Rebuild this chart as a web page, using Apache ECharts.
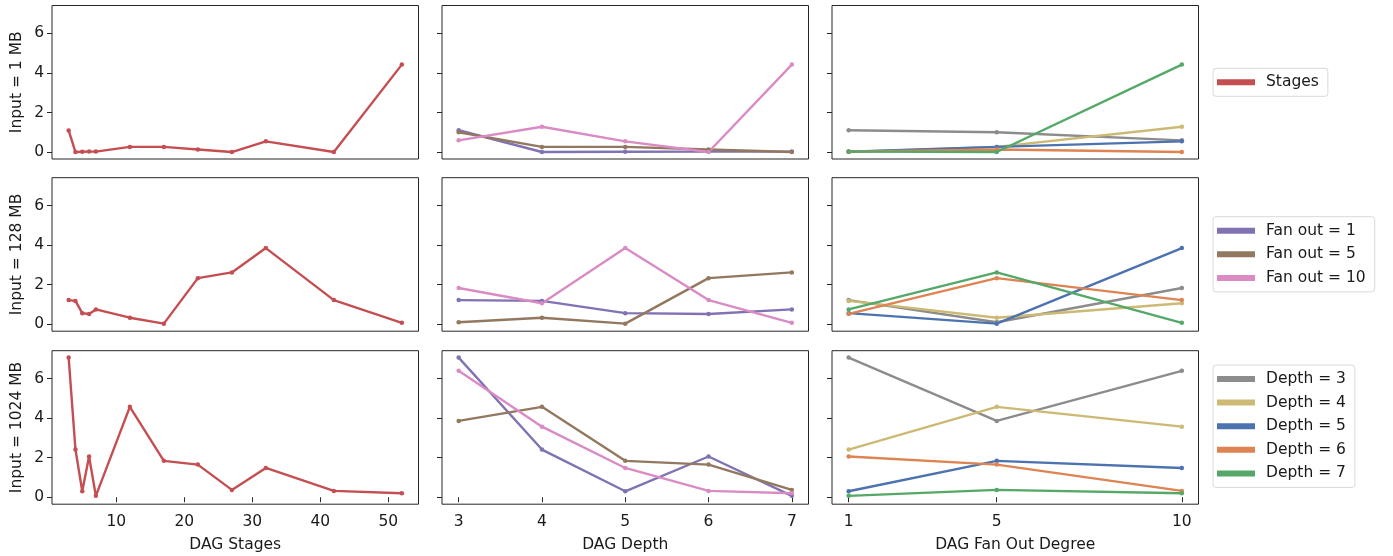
<!DOCTYPE html>
<html>
<head>
<meta charset="utf-8">
<script src="https://cdn.jsdelivr.net/npm/echarts@6/dist/echarts.min.js"></script>
<style>
  html, body { margin: 0; padding: 0; background: #fff; }
  #chart { width: 1393px; height: 556px; }
</style>
</head>
<body>
<div id="chart"></div>
<script>
// categories / ticks
var depths = [3, 4, 5, 6, 7];
var fanOuts = [1, 5, 10];
var stages = [3, 4, 5, 6, 7, 12, 17, 22, 27, 32, 42, 52];
var inputLabels = ['Input = 1 MB', 'Input = 128 MB', 'Input = 1024 MB'];
var yTicks = [0, 2, 4, 6];
var stageTicks = [10, 20, 30, 40, 50];

// time vs number of stages, one array per input size
var stageTime1 = [1.09, 0.0, 0.01, 0.02, 0.02, 0.26, 0.26, 0.13, 0.0, 0.54, 0.0, 4.42];
var stageTime128 = [1.22, 1.18, 0.56, 0.52, 0.75, 0.33, 0.03, 2.33, 2.62, 3.85, 1.22, 0.07];
var stageTime1024 = [7.06, 2.41, 0.30, 2.06, 0.07, 4.57, 1.84, 1.65, 0.37, 1.48, 0.32, 0.20];

// time vs depth (3..7), one array per fan out and input size
var t1_fo1 = [1.10, 0.0, 0.01, 0.02, 0.02];
var t1_fo5 = [1.00, 0.26, 0.26, 0.13, 0.0];
var t1_fo10 = [0.59, 1.28, 0.54, 0.0, 4.42];
var t128_fo1 = [1.22, 1.18, 0.56, 0.52, 0.75];
var t128_fo5 = [0.10, 0.33, 0.03, 2.33, 2.62];
var t128_fo10 = [1.83, 1.06, 3.85, 1.22, 0.07];
var t1024_fo1 = [7.06, 2.41, 0.30, 2.06, 0.07];
var t1024_fo5 = [3.86, 4.57, 1.84, 1.65, 0.37];
var t1024_fo10 = [6.39, 3.57, 1.48, 0.32, 0.20];

var stageRows = [stageTime1, stageTime128, stageTime1024];
var depthRows = [
  [t1_fo1, t1_fo5, t1_fo10],
  [t128_fo1, t128_fo5, t128_fo10],
  [t1024_fo1, t1024_fo5, t1024_fo10]
];

var stageColor = '#C44E52';
var fanOutColors = ['#8172B3', '#937860', '#DA8BC3'];
var depthColors = ['#8C8C8C', '#CCB974', '#4C72B0', '#DD8452', '#55A868'];

var font = 'DejaVu Sans';
var fs = 15.5;
var ink = '#1a1a1a';
var colLeft = [52, 442, 832];
var rowTop = [5.5, 177.7, 350.7];
var cellW = 366.5, cellH = 153.5;

var xSetup = [
  { min: 0.55, max: 54.45, ticks: stageTicks, name: 'DAG Stages' },
  { min: 2.8, max: 7.2, ticks: depths, name: 'DAG Depth' },
  { min: 0.55, max: 10.45, ticks: fanOuts, name: 'DAG Fan Out Degree' }
];

var grids = [], xAxes = [], yAxes = [], series = [];

for (var r = 0; r < 3; r++) {
  for (var c = 0; c < 3; c++) {
    var idx = r * 3 + c;
    var bottom = r === 2;
    grids.push({
      left: colLeft[c], top: rowTop[r], width: cellW, height: cellH,
      show: true, borderColor: '#262626', borderWidth: 1, backgroundColor: 'transparent'
    });
    xAxes.push({
      type: 'value', gridIndex: idx,
      min: xSetup[c].min, max: xSetup[c].max,
      name: bottom ? xSetup[c].name : '',
      nameLocation: 'middle', nameGap: 33,
      nameTextStyle: { fontFamily: font, fontSize: fs, color: ink },
      axisLine: { show: false },
      splitLine: { show: false },
      axisTick: { show: bottom, length: 5, lineStyle: { color: '#262626' }, customValues: xSetup[c].ticks },
      axisLabel: { show: bottom, margin: 10, fontFamily: font, fontSize: fs, color: ink, customValues: xSetup[c].ticks }
    });
    yAxes.push({
      type: 'value', gridIndex: idx,
      min: -0.353, max: 7.41,
      name: c === 0 ? inputLabels[r] : '',
      nameLocation: 'middle', nameGap: 27,
      nameTextStyle: { fontFamily: font, fontSize: fs, color: ink },
      axisLine: { show: false },
      splitLine: { show: false },
      axisTick: { show: true, length: 5, lineStyle: { color: '#262626' }, customValues: yTicks },
      axisLabel: { show: c === 0, margin: 8, fontFamily: font, fontSize: fs, color: ink, customValues: yTicks }
    });
  }
}

function lineSeries(name, color, idx, data) {
  return {
    type: 'line', name: name, xAxisIndex: idx, yAxisIndex: idx,
    data: data, color: color,
    symbol: 'circle', symbolSize: 4.5, showSymbol: true,
    lineStyle: { width: 2.4, color: color },
    itemStyle: { color: color },
    emphasis: { disabled: true }
  };
}

for (var r = 0; r < 3; r++) {
  series.push(lineSeries('Stages', stageColor, r * 3,
    stages.map(function (s, i) { return [s, stageRows[r][i]]; })));
  for (var f = 0; f < fanOuts.length; f++) {
    series.push(lineSeries('Fan out = ' + fanOuts[f], fanOutColors[f], r * 3 + 1,
      depths.map(function (d, i) { return [d, depthRows[r][f][i]]; })));
  }
  for (var d = 0; d < depths.length; d++) {
    series.push(lineSeries('Depth = ' + depths[d], depthColors[d], r * 3 + 2,
      fanOuts.map(function (fo, j) { return [fo, depthRows[r][j][d]]; })));
  }
}

function legendBox(names, top) {
  return {
    data: names, orient: 'vertical', left: 1213, top: top,
    icon: 'rect', itemWidth: 38, itemHeight: 6, itemGap: 7.6,
    padding: [6, 9, 6, 4],
    backgroundColor: '#fff', borderColor: '#d9d9d9', borderWidth: 1, borderRadius: 3,
    textStyle: { fontFamily: font, fontSize: fs, color: ink, lineHeight: 16, padding: [0, 0, 0, 6] },
    selectedMode: false
  };
}

var chart = echarts.init(document.getElementById('chart'), null, { renderer: 'canvas' });
chart.setOption({
  animation: false,
  backgroundColor: '#fff',
  grid: grids,
  xAxis: xAxes,
  yAxis: yAxes,
  legend: [
    legendBox(['Stages'], 68.3),
    legendBox(fanOuts.map(function (f) { return 'Fan out = ' + f; }), 216.7),
    legendBox(depths.map(function (d) { return 'Depth = ' + d; }), 365)
  ],
  series: series
});
window.addEventListener('resize', chart.resize);
</script>
</body>
</html>
